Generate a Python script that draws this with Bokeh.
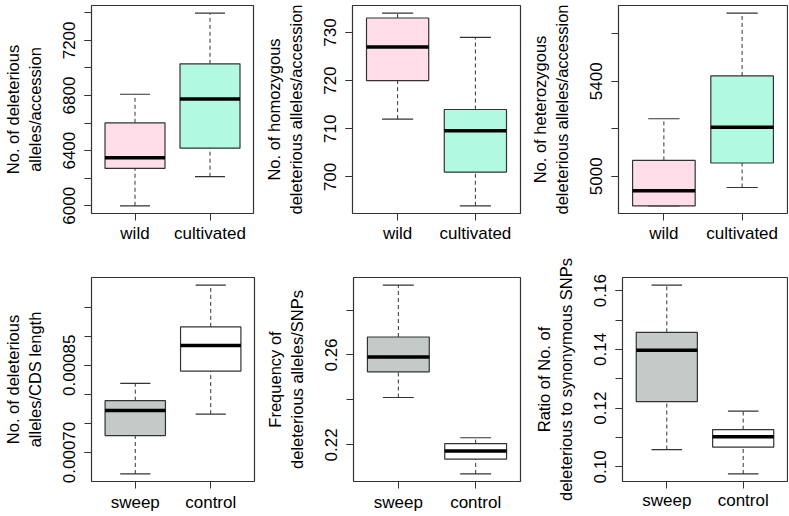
from bokeh.plotting import figure
from bokeh.models import Range1d, FixedTicker, PrintfTickFormatter, ColumnDataSource
from bokeh.layouts import row, column
from bokeh.embed import file_html
from bokeh.resources import INLINE

FONT = "Liberation Sans"

# ---- data: each box is [lower whisker, Q1, median, Q3, upper whisker] ----
groups_top = ["wild", "cultivated"]
groups_bottom = ["sweep", "control"]

p1_wild = [6000, 6271, 6348, 6602, 6809]
p1_cult = [6211, 6418, 6775, 7030, 7397]
p1_ticks = [6000, 6200, 6400, 6600, 6800, 7000, 7200, 7400]
p1_labeled = [6000, 6400, 6800, 7200]

p2_wild = [712, 720, 727, 733, 734]
p2_cult = [694, 701, 709.6, 714, 729]
p2_ticks = [700, 710, 720, 730]
p2_labeled = [700, 710, 720, 730]

p3_wild = [4876, 4876, 4939, 5067, 5242]
p3_cult = [4953, 5056, 5206, 5422, 5686]
p3_ticks = [5000, 5200, 5400, 5600]
p3_labeled = [5000, 5400]

p4_sweep = [0.000663, 0.000729, 0.000772, 0.000789, 0.000819]
p4_control = [0.000766, 0.000840, 0.000884, 0.000916, 0.000988]
p4_ticks = [0.00070, 0.00075, 0.00080, 0.00085, 0.00090, 0.00095]
p4_labeled = [0.00070, 0.00085]

p5_sweep = [0.2411, 0.2525, 0.2591, 0.2680, 0.2911]
p5_control = [0.2071, 0.2137, 0.2173, 0.2206, 0.2232]
p5_ticks = [0.22, 0.24, 0.26, 0.28]
p5_labeled = [0.22, 0.26]

p6_sweep = [0.1059, 0.1222, 0.1397, 0.1458, 0.1619]
p6_control = [0.0976, 0.1067, 0.1103, 0.1127, 0.1190]
p6_ticks = [0.10, 0.11, 0.12, 0.13, 0.14, 0.15, 0.16]
p6_labeled = [0.10, 0.12, 0.14, 0.16]

PINK = "#FFDEE9"
CYAN = "#B2F9E2"
GRAY = "#C3CAC8"
WHITE = "#FFFFFF"
LINE = "#333333"

BOXW = 0.8
FS = "17px"
FS_LABEL = "16.5px"


def panel(width, height, left, right, top, bottom, cats, boxes, fills,
          ticks, labeled, fmt, ylabel, x_standoff=3):
    xs = list(range(1, len(cats) + 1))
    allv = [v for b in boxes for v in b]
    lo, hi = min(allv), max(allv)
    pad = 0.04 * (hi - lo)
    p = figure(width=width, height=height, output_backend="svg", toolbar_location=None,
               min_border_left=left, min_border_right=right,
               min_border_top=top, min_border_bottom=bottom,
               x_range=Range1d(0.5 - 0.08, len(cats) + 0.5 + 0.08),
               y_range=Range1d(lo - pad, hi + pad))
    p.xgrid.visible = False
    p.ygrid.visible = False
    p.outline_line_color = LINE
    p.outline_line_width = 1.2
    p.background_fill_color = "white"
    p.border_fill_color = "white"

    src = ColumnDataSource(dict(
        x=xs,
        x0=[x - BOXW / 2 for x in xs],
        x1=[x + BOXW / 2 for x in xs],
        s0=[x - BOXW / 4 for x in xs],
        s1=[x + BOXW / 4 for x in xs],
        lw=[b[0] for b in boxes],
        q1=[b[1] for b in boxes],
        med=[b[2] for b in boxes],
        q3=[b[3] for b in boxes],
        uw=[b[4] for b in boxes],
        fill=fills,
    ))
    # whiskers (dashed)
    p.segment(x0="x", y0="q3", x1="x", y1="uw", source=src, line_color=LINE,
              line_width=1, line_dash="4 3")
    p.segment(x0="x", y0="lw", x1="x", y1="q1", source=src, line_color=LINE,
              line_width=1, line_dash="4 3")
    # staples
    p.segment(x0="s0", y0="uw", x1="s1", y1="uw", source=src, line_color=LINE, line_width=1.2)
    p.segment(x0="s0", y0="lw", x1="s1", y1="lw", source=src, line_color=LINE, line_width=1.2)
    # boxes
    p.quad(left="x0", right="x1", bottom="q1", top="q3", source=src,
           fill_color="fill", line_color=LINE, line_width=1.2)
    # medians
    p.segment(x0="x0", y0="med", x1="x1", y1="med", source=src, line_color="black",
              line_width=3.5)

    xa = p.xaxis[0]
    xa.ticker = FixedTicker(ticks=xs, minor_ticks=[])
    xa.major_label_overrides = {x: c for x, c in zip(xs, cats)}
    ya = p.yaxis[0]
    ya.ticker = FixedTicker(ticks=labeled, minor_ticks=ticks)
    ya.formatter = PrintfTickFormatter(format=fmt)
    ya.major_label_orientation = "vertical"
    ya.axis_label = ylabel
    ya.axis_label_text_font = FONT
    ya.axis_label_text_font_size = FS_LABEL
    ya.axis_label_text_font_style = "normal"
    ya.axis_label_text_color = "black"
    ya.axis_label_standoff = 17
    for ax in (xa, ya):
        ax.axis_line_color = None
        ax.major_tick_in = 0
        ax.major_tick_out = 7
        ax.minor_tick_in = 0
        ax.minor_tick_out = 7
        ax.major_tick_line_color = LINE
        ax.minor_tick_line_color = LINE
        ax.major_label_text_font = FONT
        ax.major_label_text_font_size = FS
        ax.major_label_text_color = "black"
    xa.major_label_standoff = x_standoff
    ya.major_label_standoff = 9
    return p


# top row: frames at y 5..213
f1 = panel(258, 254, 85, 5, 5, 41, groups_top, [p1_wild, p1_cult], [PINK, CYAN],
           p1_ticks, p1_labeled, "%d", "No. of deleterious\nalleles/accession")
f2 = panel(267, 254, 94, 5, 5, 41, groups_top, [p2_wild, p2_cult], [PINK, CYAN],
           p2_ticks, p2_labeled, "%d", "No. of homozygous\ndeleterious alleles/accession")
f3 = panel(263, 254, 93, 1, 5, 41, groups_top, [p3_wild, p3_cult], [PINK, CYAN],
           p3_ticks, p3_labeled, "%d", "No. of heterozygous\ndeleterious alleles/accession")

# bottom row: frames at y 275..486
f4 = panel(258, 262, 85, 4, 21, 30, groups_bottom, [p4_sweep, p4_control], [GRAY, WHITE],
           p4_ticks, p4_labeled, "%.5f", "No. of deleterious\nalleles/CDS length", 4)
f5 = panel(267, 262, 95, 5, 21, 30, groups_bottom, [p5_sweep, p5_control], [GRAY, WHITE],
           p5_ticks, p5_labeled, "%.2f", "Frequency of\ndeleterious alleles/SNPs", 4)
f6 = panel(263, 262, 97, 1, 23, 35, groups_bottom, [p6_sweep, p6_control], [GRAY, WHITE],
           p6_ticks, p6_labeled, "%.2f", "Ratio of No. of\ndeleterious to synonymous SNPs", 2)

layout = column(row(f1, f2, f3), row(f4, f5, f6))

open("out.html", "w").write(file_html(layout, INLINE))
